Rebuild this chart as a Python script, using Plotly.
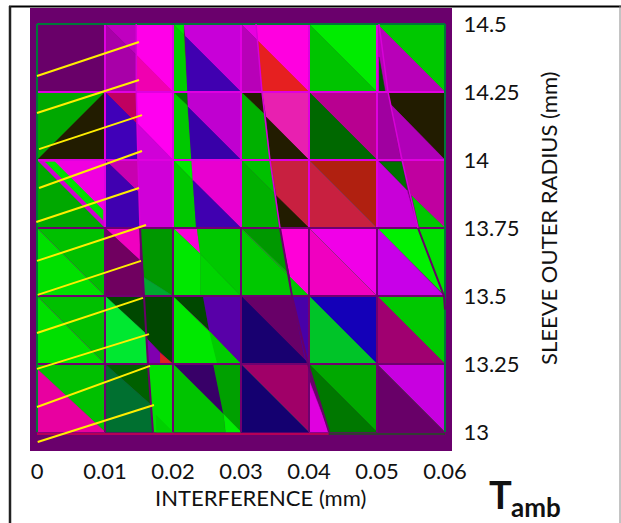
import plotly.graph_objects as go

# ---- axis values ----
interference_ticks = [0, 0.01, 0.02, 0.03, 0.04, 0.05, 0.06]
interference_labels = ["0", "0.01", "0.02", "0.03", "0.04", "0.05", "0.06"]
radius_ticks = [13, 13.25, 13.5, 13.75, 14, 14.25, 14.5]
radius_labels = ["13", "13.25", "13.5", "13.75", "14", "14.25", "14.5"]

# ---- contour patches, band 14.5 - 14.25 ----
a_x = [[0, .01, .01, 0], [.01, .0146, .0146], [.01, .0146, .0146, .01], [.0146, .02, .02, .0146], [.0146, .02, .0146],
       [.02, .0216, .0216], [.02, .0216, .0221, .02], [.0216, .03, .03, .0218], [.0218, .03, .0221],
       [.03, .0322, .0325], [.03, .0325, .0331, .03], [.0322, .04, .04, .0325], [.0325, .04, .0331],
       [.04, .05, .05], [.04, .05, .04], [.05, .06, .06], [.05, .06, .05], [.0503, .0512, .0503]]
a_y = [[14.5, 14.5, 14.25, 14.25], [14.5, 14.5, 14.386], [14.5, 14.386, 14.25, 14.25], [14.5, 14.5, 14.25, 14.386], [14.386, 14.25, 14.25],
       [14.5, 14.5, 14.46], [14.5, 14.46, 14.25, 14.25], [14.5, 14.5, 14.25, 14.455], [14.455, 14.25, 14.25],
       [14.5, 14.5, 14.4375], [14.5, 14.4375, 14.25, 14.25], [14.5, 14.5, 14.25, 14.4375], [14.4375, 14.25, 14.25],
       [14.5, 14.5, 14.25], [14.5, 14.25, 14.25], [14.5, 14.5, 14.25], [14.5, 14.25, 14.25], [14.379, 14.25, 14.25]]
a_c = ["#690069", "#c000c0", "#a800a8", "#ff00e8", "#f000b0",
       "#00e000", "#00cc00", "#c800d8", "#4000b0",
       "#e800e0", "#b800b8", "#ff00e0", "#e62020",
       "#00ec00", "#00c400", "#00c800", "#b800b8", "#005000"]

# ---- band 14.25 - 14 ----
b_x = [[0, .01, 0], [.01, .01, 0], [.01, .0146, .0146], [.01, .0146, .01485, .01], [.0146, .02, .02, .0147], [.0147, .02, .01485],
       [.02, .0221, .0221], [.02, .0221, .0227, .02], [.0221, .03, .03, .0222], [.0222, .03, .0227],
       [.03, .0331, .0334], [.03, .0334, .0343, .03], [.0331, .04, .04, .0337], [.0337, .04, .0343],
       [.04, .05, .05], [.04, .05, .04], [.05, .0516, .0535, .05], [.0516, .06, .06, .0521], [.0521, .06, .0535]]
b_y = [[14.25, 14.25, 14], [14.25, 14, 14], [14.25, 14.25, 14.135], [14.25, 14.135, 14, 14], [14.25, 14.25, 14, 14.135], [14.135, 14, 14],
       [14.25, 14.25, 14.2], [14.25, 14.2, 14, 14], [14.25, 14.25, 14, 14.195], [14.195, 14, 14],
       [14.25, 14.25, 14.169], [14.25, 14.169, 14, 14], [14.25, 14.25, 14, 14.158], [14.158, 14, 14],
       [14.25, 14.25, 14], [14.25, 14, 14], [14.25, 14.25, 14, 14], [14.25, 14.25, 14, 14.202], [14.202, 14, 14]]
b_c = ["#00a800", "#221c00", "#c00060", "#4000b8", "#ff00f0", "#d000d8",
       "#007800", "#00c800", "#c000d0", "#3800a8",
       "#221c00", "#00b000", "#e820b0", "#221c00",
       "#b80090", "#006800", "#a000a0", "#221c00", "#b000b8"]

# ---- band 14 - 13.75 ----
c_x = [[0, .01, .01], [0, .01, 0], [0, .0012, .0097, .01], [.0012, .00265, .0097, .0097],
       [.01, .0149, .0149], [.01, .0149, .0151, .01], [.0149, .02, .02, .0151],
       [.02, .0227, .0229], [.02, .0229, .0234, .02], [.0227, .03, .03, .0229], [.0229, .03, .0234],
       [.03, .0343, .0349], [.03, .0349, .0356, .03], [.0343, .04, .04, .0352], [.0352, .04, .0357],
       [.04, .05, .05], [.04, .05, .04],
       [.05, .0544, .056, .05], [.0504, .0537, .0544], [.0537, .06, .06, .055], [.0551, .06, .0562]]
c_y = [[14, 14, 13.75], [14, 13.75, 13.75], [14, 13.993, 13.779, 13.75], [13.993, 13.993, 13.816, 13.779],
       [14, 14, 13.882], [14, 13.882, 13.75, 13.75], [14, 14, 13.75, 13.75],
       [14, 14, 13.926], [14, 13.926, 13.75, 13.75], [14, 14, 13.75, 13.926], [13.926, 13.75, 13.75],
       [14, 14, 13.878], [14, 13.878, 13.75, 13.75], [14, 14, 13.75, 13.868], [13.868, 13.75, 13.75],
       [14, 14, 13.75], [14, 13.75, 13.75],
       [14, 13.89, 13.75, 13.75], [13.993, 13.993, 13.89], [14, 14, 13.75, 13.871], [13.868, 13.75, 13.75]]
c_c = ["#f000e0", "#00a800", "#d000d0", "#00e000",
       "#c800b0", "#4000b0", "#d000d8",
       "#00e800", "#00c800", "#e800d0", "#4000b0",
       "#00c000", "#00b000", "#c82040", "#221c00",
       "#b02010", "#c82040",
       "#c800d8", "#007000", "#c000a0", "#00c800"]

# ---- band 13.75 - 13.5 ----
d_x = [[0, .01, .01], [0, .01, 0],
       [.01, .0151, .0151], [.01, .0151, .0157, .01], [.0151, .02, .02, .0157], [.0156, .02, .0157],
       [.02, .0235, .024], [.02, .024, .024, .02], [.024, .03, .024], [.0235, .03, .03, .024],
       [.03, .0357, .0369], [.03, .0369, .0374, .03], [.0357, .04, .04, .0372], [.0372, .04, .0375],
       [.04, .05, .05], [.04, .05, .04],
       [.05, .05603, .05976], [.05, .05976, .05985, .05], [.05603, .06, .06, .05985]]
d_y = [[13.75, 13.75, 13.5], [13.75, 13.5, 13.5],
       [13.75, 13.75, 13.632], [13.75, 13.632, 13.5, 13.5], [13.75, 13.75, 13.5, 13.57], [13.57, 13.5, 13.5],
       [13.75, 13.75, 13.655], [13.75, 13.655, 13.5, 13.5], [13.655, 13.5, 13.5], [13.75, 13.75, 13.5, 13.655],
       [13.75, 13.75, 13.585], [13.75, 13.585, 13.5, 13.5], [13.75, 13.75, 13.5, 13.57], [13.57, 13.5, 13.5],
       [13.75, 13.75, 13.5], [13.75, 13.5, 13.5],
       [13.75, 13.75, 13.506], [13.75, 13.506, 13.5, 13.5], [13.75, 13.75, 13.5, 13.5]]
d_c = ["#00c000", "#00e000",
       "#f000c0", "#700060", "#009800", "#00a830",
       "#f800d8", "#00e800", "#00d400", "#00c800",
       "#009800", "#00c800", "#ff00d8", "#00c800",
       "#f000e8", "#f000c0",
       "#00f000", "#c800e8", "#00e000"]

# ---- band 13.5 - 13.25 ----
e_x = [[0, .01, .01], [0, .01, 0],
       [.01, .0157, .0162], [.01, .0162, .0162, .01], [.0157, .02, .02, .0162], [.0162, .0181, .0181, .0162], [.0181, .02, .0181],
       [.02, .0253, .03, .02], [.02, .0244, .0253], [.0244, .03, .03, .0253], [.0253, .03, .0265],
       [.03, .0375, .0394], [.0375, .04, .04, .0394], [.03, .04, .03],
       [.04, .05, .05], [.04, .05, .04], [.05, .06, .06], [.05, .06, .05]]
e_y = [[13.5, 13.5, 13.25], [13.5, 13.25, 13.25],
       [13.5, 13.5, 13.357], [13.5, 13.357, 13.25, 13.25], [13.5, 13.5, 13.25, 13.342], [13.342, 13.29, 13.25, 13.25], [13.29, 13.25, 13.25],
       [13.5, 13.37, 13.25, 13.25], [13.5, 13.5, 13.375], [13.5, 13.5, 13.25, 13.375], [13.37, 13.25, 13.25],
       [13.5, 13.5, 13.265], [13.5, 13.5, 13.25, 13.265], [13.5, 13.25, 13.25],
       [13.5, 13.5, 13.25], [13.5, 13.25, 13.25], [13.5, 13.5, 13.25], [13.5, 13.25, 13.25]]
e_c = ["#00c000", "#00e000",
       "#004800", "#00e830", "#004800", "#8000b0", "#e02020",
       "#00e800", "#004800", "#5800a8", "#00cc00",
       "#680068", "#4800a8", "#180070",
       "#1400b8", "#00c428", "#00c800", "#a00070"]

# ---- band 13.25 - 13 ----
f_x = [[0, .01, .01, 0], [0, .01, 0],
       [.01, .0163, .0168], [.01, .0168, .0171, .01], [.0163, .02, .02, .0171], [.0175, .02, .0175],
       [.02, .0259, .0274], [.0259, .03, .03, .0274], [.0274, .03, .0277], [.02, .0274, .0277, .02],
       [.03, .04, .04], [.03, .04, .03],
       [.04, .05, .05], [.04, .05, .0429], [.04, .0429, .04],
       [.05, .06, .06], [.05, .06, .05]]
f_y = [[13.25, 13.25, 13, 13.232], [13.232, 13, 13],
       [13.25, 13.25, 13.099], [13.25, 13.099, 13, 13], [13.25, 13.25, 13, 13], [13.0625, 13, 13],
       [13.25, 13.25, 13.066], [13.25, 13.25, 13, 13.066], [13.066, 13, 13], [13.25, 13.066, 13, 13],
       [13.25, 13.25, 13], [13.25, 13, 13],
       [13.25, 13.25, 13], [13.25, 13, 13], [13.19, 13, 13],
       [13.25, 13.25, 13], [13.25, 13, 13]]
f_c = ["#00c000", "#e800a0",
       "#006000", "#007030", "#00e000", "#00d000",
       "#380068", "#00a000", "#00ee00", "#00c400",
       "#a00068", "#140070",
       "#00a800", "#007800", "#e000e0",
       "#c800e0", "#680068"]

# ---- contour boundaries ----
contour1_x = [.0146, .0146, .01485, .01515]
contour1_y = [14.5, 14.25, 14, 13.75]
contour1b_x = [.01515, .01574, .01632, .01706]
contour1b_y = [13.75, 13.5, 13.25, 13]
contour2_x = [.03221, .03309, .03426, .03574]
contour2_y = [14.5, 14.25, 14, 13.75]
contour2b_x = [.03574, .0375, .03985, .04294]
contour2b_y = [13.75, 13.5, 13.25, 13]
contour3_x = [.05029, .05162, .05368, .05603]
contour3_y = [14.5, 14.25, 14, 13.75]
contour3b_x = [.05603, .05985, .06]
contour3b_y = [13.75, 13.5, 13.45]

# ---- thin mesh diagonals, (start, end) ----
diag_x = [[0, .01], [0, .01], [.04, .05], [.04, .05], [.03, .04], [.05, .06], [.03, .037]]
diag_y = [[13.75, 13.5], [13.5, 13.25], [14, 13.75], [13.75, 13.5], [13.25, 13], [13.25, 13], [13.75, 13.575]]

# ---- yellow lines: (start, end) ----
yellow_x = [[0, .015], [0, .015], [.0003, .01544], [.0003, .01544], [-.0001, .015], [0, .01603],
            [.0001, .01529], [0, .01559], [0, .01647], [0, .01662], [.0001, .0172]]
yellow_y = [[14.309, 14.434], [14.173, 14.294], [14.04, 14.165], [13.897, 14.033], [13.772, 13.897], [13.629, 13.761],
            [13.504, 13.629], [13.364, 13.493], [13.232, 13.36], [13.092, 13.243], [12.963, 13.099]]

fig = go.Figure()
FONT = "Lato, Carlito, Calibri, sans-serif"


def poly(xs, ys, color):
    fig.add_trace(go.Scatter(x=xs, y=ys, mode="lines", fill="toself", fillcolor=color,
                             line=dict(color=color, width=0.6), hoverinfo="skip", showlegend=False))


def path(xs, ys, color, width, dash="solid"):
    fig.add_trace(go.Scatter(x=xs, y=ys, mode="lines", line=dict(color=color, width=width, dash=dash),
                             hoverinfo="skip", showlegend=False))


for px_, py_, pc_ in [(a_x, a_y, a_c), (b_x, b_y, b_c), (c_x, c_y, c_c), (d_x, d_y, d_c), (e_x, e_y, e_c), (f_x, f_y, f_c)]:
    for xs, ys, col in zip(px_, py_, pc_):
        poly(xs, ys, col)

for xs, ys in zip(diag_x, diag_y):
    path(xs, ys, "rgba(90,70,90,0.65)", 0.8)

MAG = "#e000e0"
DARK = "#700070"
GREEN = "#007838"
# cell boundaries
for v in interference_ticks[1:-1]:
    path([v, v], [14.5, 13.75], MAG, 2)
    path([v, v], [13.75, 13], DARK, 2)
for h in [14.25, 14]:
    path([0, .06], [h, h], MAG, 2)
for h in [13.75, 13.5, 13.25]:
    path([0, .06], [h, h], DARK, 2)
path([0, .06], [14.5, 14.5], GREEN, 2)
path([0, 0], [14.5, 13], GREEN, 2)
path([.06, .06], [14.5, 13], GREEN, 2)
path([0, .0429], [12.9926, 12.9926], "#d00050", 1.5)
path([.0429, .06], [12.9926, 12.9926], "#205020", 1.5)

for xs, ys in [(contour1_x, contour1_y), (contour2_x, contour2_y), (contour3_x, contour3_y)]:
    path(xs, ys, "#d800d8", 1.5)
for xs, ys in [(contour1b_x, contour1b_y), (contour2b_x, contour2b_y), (contour3b_x, contour3b_y)]:
    path(xs, ys, "#680068", 2)

for xs, ys in zip(yellow_x, yellow_y):
    path(xs, ys, "#ffee00", 2)


PW, PH = 621, 523
L, R, T, B = 30, 452, 8, 451
def P(x): return (x - L) / (R - L)
def Q(y): return (B - y) / (B - T)


def label(text, x, y, size, angle=0, bold=False):
    fig.add_annotation(text=("<b>%s</b>" % text) if bold else text, x=P(x), y=Q(y), xref="paper", yref="paper",
                       showarrow=False, textangle=angle, font=dict(family=FONT, size=size, color="#111111"),
                       xanchor="center", yanchor="middle")


label("INTERFERENCE (mm)", 260, 497, 22)
label("SLEEVE OUTER RADIUS (mm)", 548, 219, 22, angle=-90)
label("T", 501, 494, 38, bold=True)
label("amb", 536, 506.5, 26, bold=True)

fig.update_layout(
    width=PW, height=PH, autosize=False,
    margin=dict(l=L, r=PW - R, t=T, b=PH - B, pad=0),
    paper_bgcolor="white", plot_bgcolor="#6a006c", showlegend=False,
    xaxis=dict(range=[-7 / 6800, 415 / 6800], tickmode="array", tickvals=interference_ticks,
               ticktext=interference_labels, showgrid=False, zeroline=False, showline=False,
               ticks="outside", ticklen=1, tickcolor="rgba(0,0,0,0)",
               tickfont=dict(family=FONT, size=22, color="#111111")),
    yaxis=dict(range=[14.5 - 427 / 272, 14.5 + 16 / 272], side="right", tickmode="array", tickvals=radius_ticks,
               ticktext=radius_labels, showgrid=False, zeroline=False, showline=False,
               ticks="outside", ticklen=6, tickcolor="rgba(0,0,0,0)",
               tickfont=dict(family=FONT, size=22, color="#111111")),
    shapes=[
        dict(type="line", xref="paper", yref="paper", x0=P(9), x1=P(621), y0=Q(6.5), y1=Q(6.5), line=dict(color="#000000", width=2)),
        dict(type="line", xref="paper", yref="paper", x0=P(10), x1=P(10), y0=Q(6), y1=Q(523), line=dict(color="#222222", width=2.5)),
        dict(type="line", xref="paper", yref="paper", x0=P(620), x1=P(620), y0=Q(6), y1=Q(523), line=dict(color="#888888", width=1)),
    ],
)
fig.write_html("out.html", config={"displayModeBar": False},
               post_script="document.body.style.margin='0';document.documentElement.style.overflow='hidden';")
